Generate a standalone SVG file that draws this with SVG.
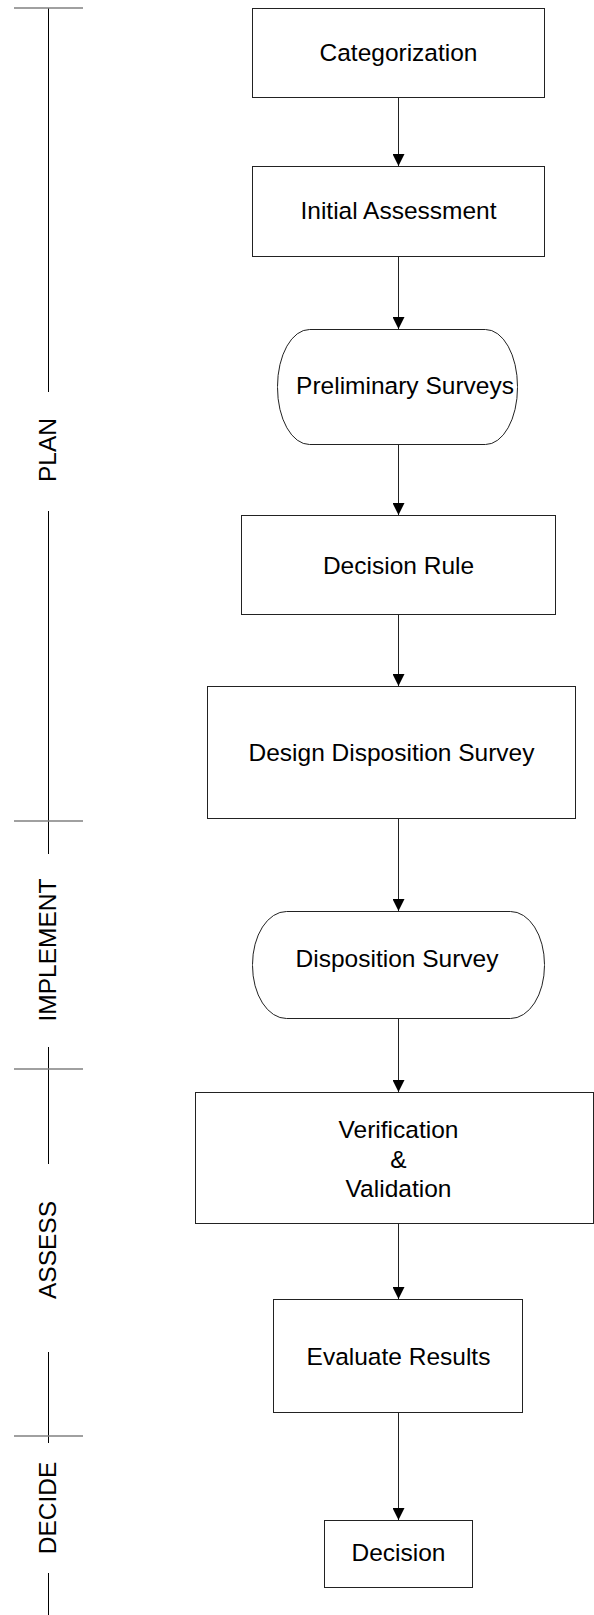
<svg xmlns="http://www.w3.org/2000/svg" width="594" height="1615" viewBox="0 0 594 1615">
<defs>
<marker id="ah" viewBox="0 0 12 12" refX="12" refY="6" markerWidth="12" markerHeight="12" markerUnits="userSpaceOnUse" orient="auto">
<path d="M0,0 L12,6 L0,12 Z" fill="#000"/>
</marker>
</defs>
<style>
.box{fill:#fff;stroke:#222;stroke-width:1}
.lbl{font-family:"Liberation Sans",Arial,sans-serif;font-size:24.5px;fill:#000;text-anchor:middle}
.tl{stroke:#000;stroke-width:1}
.tick{stroke:#808080;stroke-width:1.5}
.con{stroke:#222;stroke-width:1;fill:none}
</style>
<rect width="594" height="1615" fill="#fff"/>
<g id="timeline">
<line class="tl" x1="48.5" y1="8" x2="48.5" y2="392"/>
<line class="tl" x1="48.5" y1="511" x2="48.5" y2="854"/>
<line class="tl" x1="48.5" y1="1047" x2="48.5" y2="1164"/>
<line class="tl" x1="48.5" y1="1352" x2="48.5" y2="1443"/>
<line class="tl" x1="48.5" y1="1573" x2="48.5" y2="1615"/>
<line class="tick" x1="14" y1="8" x2="83" y2="8"/>
<line class="tick" x1="14" y1="821" x2="83" y2="821"/>
<line class="tick" x1="14" y1="1069" x2="83" y2="1069"/>
<line class="tick" x1="14" y1="1436" x2="83" y2="1436"/>
<text class="lbl" transform="translate(56,450) rotate(-90)">PLAN</text>
<text class="lbl" transform="translate(56,950) rotate(-90)">IMPLEMENT</text>
<text class="lbl" transform="translate(56,1250) rotate(-90)">ASSESS</text>
<text class="lbl" transform="translate(56,1508) rotate(-90)">DECIDE</text>
</g>
<g id="connectors">
<line class="con" x1="398.5" y1="98" x2="398.5" y2="166" marker-end="url(#ah)"/>
<line class="con" x1="398.5" y1="257" x2="398.5" y2="329" marker-end="url(#ah)"/>
<line class="con" x1="398.5" y1="445" x2="398.5" y2="515" marker-end="url(#ah)"/>
<line class="con" x1="398.5" y1="615" x2="398.5" y2="686" marker-end="url(#ah)"/>
<line class="con" x1="398.5" y1="819" x2="398.5" y2="911" marker-end="url(#ah)"/>
<line class="con" x1="398.5" y1="1019" x2="398.5" y2="1092" marker-end="url(#ah)"/>
<line class="con" x1="398.5" y1="1224" x2="398.5" y2="1299" marker-end="url(#ah)"/>
<line class="con" x1="398.5" y1="1413" x2="398.5" y2="1520" marker-end="url(#ah)"/>
</g>
<g id="categorization">
<rect class="box" x="252.5" y="8.5" width="292" height="89"/>
<text class="lbl" x="398.5" y="61">Categorization</text>
</g>
<g id="initial-assessment">
<rect class="box" x="252.5" y="166.5" width="292" height="90"/>
<text class="lbl" x="398.5" y="219">Initial Assessment</text>
</g>
<g id="preliminary-surveys">
<rect class="box" x="277.5" y="329.5" width="240" height="115" rx="32" ry="57"/>
<text class="lbl" x="405" y="394">Preliminary Surveys</text>
</g>
<g id="decision-rule">
<rect class="box" x="241.5" y="515.5" width="314" height="99"/>
<text class="lbl" x="398.5" y="574">Decision Rule</text>
</g>
<g id="design-disposition-survey">
<rect class="box" x="207.5" y="686.5" width="368" height="132"/>
<text class="lbl" x="391.5" y="761">Design Disposition Survey</text>
</g>
<g id="disposition-survey">
<rect class="box" x="252.5" y="911.5" width="292" height="107" rx="34" ry="53"/>
<text class="lbl" x="397" y="967">Disposition Survey</text>
</g>
<g id="verification-validation">
<rect class="box" x="195.5" y="1092.5" width="398" height="131"/>
<text class="lbl" x="398.5" y="1138">Verification</text>
<text class="lbl" x="398.5" y="1168">&amp;</text>
<text class="lbl" x="398.5" y="1197">Validation</text>
</g>
<g id="evaluate-results">
<rect class="box" x="273.5" y="1299.5" width="249" height="113"/>
<text class="lbl" x="398.5" y="1365">Evaluate Results</text>
</g>
<g id="decision">
<rect class="box" x="324.5" y="1520.5" width="148" height="67"/>
<text class="lbl" x="398.5" y="1561">Decision</text>
</g>
</svg>
